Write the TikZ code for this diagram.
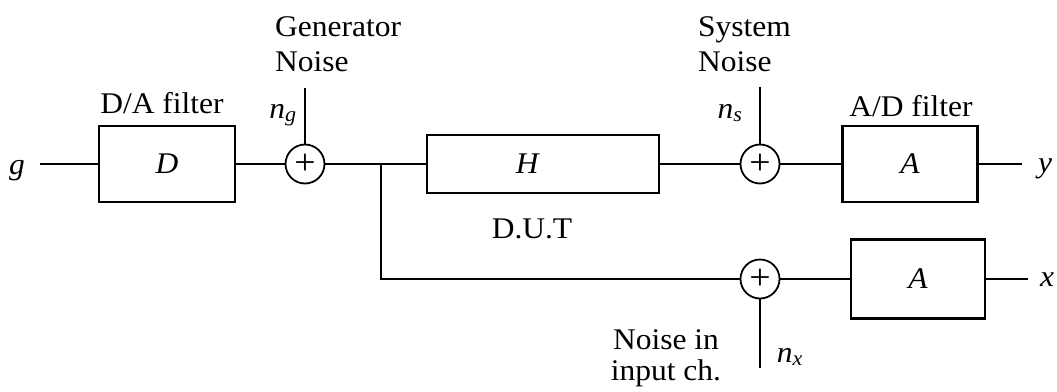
\documentclass[tikz,border=0pt]{standalone}
\usepackage{fontspec}
\setmainfont{Liberation Serif}[FakeStretch=1.05]
\usetikzlibrary{positioning}

\newcommand{\sig}[2]{\textit{#1}\textsubscript{\textit{#2}}}

\begin{document}
\begin{tikzpicture}[
  x=1pt, y=-1pt,
  every node/.style={font=\fontsize{30}{35}\selectfont},
  blk/.style={rectangle, draw, line width=2.4pt, minimum height=76pt},
  sumpt/.style={circle, draw, line width=1.8pt, minimum size=39pt, inner sep=0pt,
                font=\fontsize{36}{36}\selectfont},
  wire/.style={line width=1.8pt},
  lbl/.style={inner sep=0pt}
]
\useasboundingbox (0,0) rectangle (1057,391);
% input and D/A filter
\node[lbl, anchor=base] (g) at (17,174) {\textit{g}};
\coordinate (gout) at (40,164);
\node[blk, minimum width=136pt] (D) at (167,164) {\textit{D}};
\node[lbl, anchor=base] (Dlbl) at (162,113) {D/A filter};
% generator noise
\node[sumpt] (Sg) at (305,164) {+};
\coordinate (ngtop) at (305,88);
\node[lbl, anchor=base] (ng) at (283,118) {\sig{n}{g}};
\node[lbl, anchor=north west, align=left] (gnoise) at (275,16) {Generator\\Noise};
% device under test
\coordinate (br) at (381,164);
\coordinate (brlow) at (381,279);
\node[blk, minimum width=232pt, minimum height=58pt] (H) at (543,164) {\textit{H}\hspace*{30pt}};
\node[lbl, anchor=base] (dut) at (532,238) {D.U.T};
% system noise
\node[sumpt] (Ss) at (760,164) {+};
\coordinate (nstop) at (760,87);
\node[lbl, anchor=base] (ns) at (730,118) {\sig{n}{s}};
\node[lbl, anchor=north west, align=left] (snoise) at (698,16) {System\\Noise};
% A/D filter, output channel
\node[blk, minimum width=135pt] (Ay) at (910,164) {\textit{A}};
\node[lbl, anchor=base] (Albl) at (911,116) {A/D filter};
\coordinate (yend) at (1022,164);
\node[lbl, anchor=base] (y) at (1045,172) {\textit{y}};
% input channel
\node[sumpt] (Sx) at (760,279) {+};
\coordinate (nxbot) at (760,368);
\node[lbl, anchor=base] (nx) at (790,362) {\sig{n}{x}};
\node[lbl, align=center, font=\fontsize{30}{31}\selectfont] (xnoise) at (666,358) {Noise in\\input ch.};
\node[blk, minimum width=134pt, minimum height=79pt] (Ax) at (918,279) {\textit{A}};
\coordinate (xend) at (1028,279);
\node[lbl, anchor=base] (x) at (1047,286) {\textit{x}};
% connections
\draw[wire] (gout) -- (D);
\draw[wire] (D) -- (Sg);
\draw[wire] (ngtop) -- (Sg);
\draw[wire] (Sg) -- (H);
\draw[wire] (H) -- (Ss);
\draw[wire] (nstop) -- (Ss);
\draw[wire] (Ss) -- (Ay);
\draw[wire] (Ay) -- (yend);
\draw[wire] (br) -- (brlow) -- (Sx);
\draw[wire] (nxbot) -- (Sx);
\draw[wire] (Sx) -- (Ax);
\draw[wire] (Ax) -- (xend);
\end{tikzpicture}
\end{document}
